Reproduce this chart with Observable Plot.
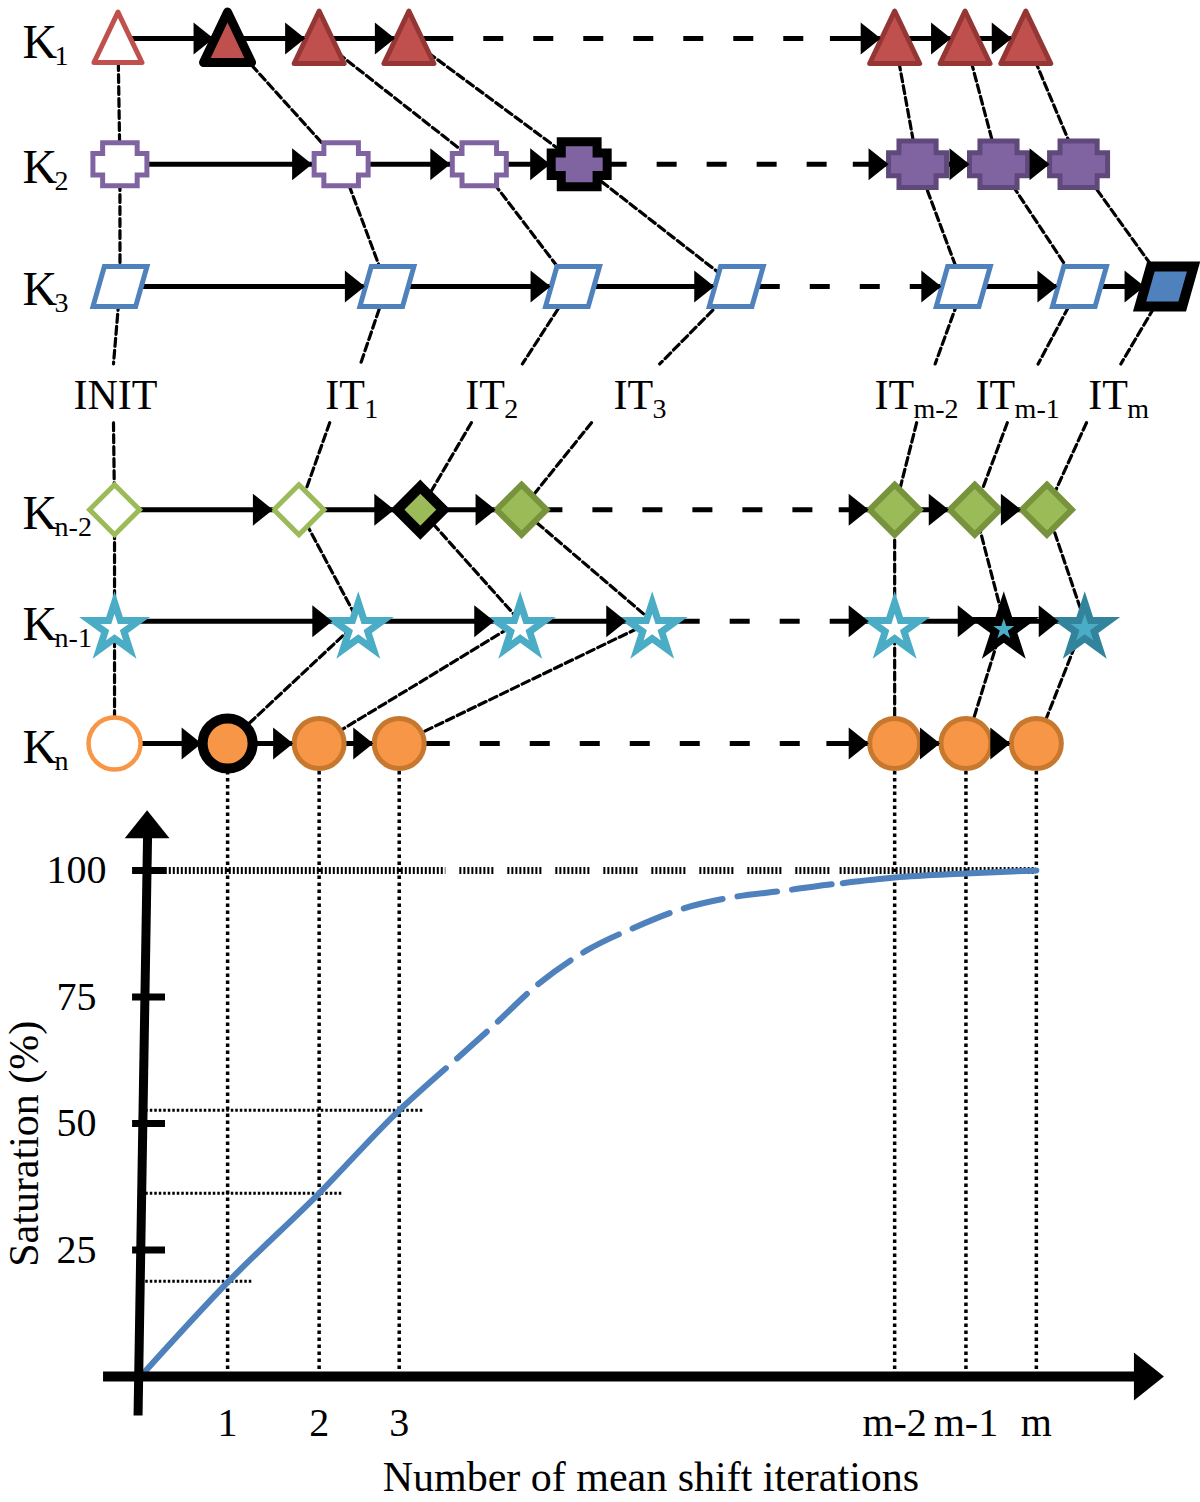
<!DOCTYPE html>
<html><head><meta charset="utf-8">
<script src="https://cdn.jsdelivr.net/npm/d3@7"></script>
<script src="https://cdn.jsdelivr.net/npm/@observablehq/plot@0.6"></script>
<style>
html,body{margin:0;padding:0;background:#fff;}
#chart svg{display:block;}
</style></head><body><div id="chart"></div>
<script>
// ---------- DATA ----------
const iterationLabels = ["INIT", "1", "2", "3", "m-2", "m-1", "m"];
const rowSubs = ["1", "2", "3", "n-2", "n-1", "n"];
const rowLevels = [0, 1.07, 2.11, 4.01, 4.96, 6];
// marker positions per cluster row (in iteration units)
const k1Pos  = [-0.256, 0.989, 2.03, 3.05, 8.57, 9.37, 10.06];
const k2Pos  = [-0.234, 2.28, 3.85, 4.985, 8.83, 9.75, 10.66];
const k3Pos  = [-0.233, 2.80, 4.91, 6.77, 9.35, 10.67, 11.66];
const kn2Pos = [-0.295, 1.80, 3.18, 4.33, 8.57, 9.48, 10.30];
const kn1Pos = [-0.295, 2.475, 4.315, 5.815, 8.57, 9.81, 10.73];
const knPos  = [-0.295, 0.99, 2.03, 2.94, 8.57, 9.38, 10.18];
const k1State  = ["open", "current", "done", "done", "done", "done", "done"];
const k2State  = ["open", "open", "open", "current", "done", "done", "done"];
const k3State  = ["open", "open", "open", "open", "open", "open", "current"];
const kn2State = ["open", "open", "current", "done", "done", "done", "done"];
const kn1State = ["open", "open", "open", "open", "open", "current", "done"];
const knState  = ["open", "current", "done", "done", "done", "done", "done"];
const dashSpans = [[3.56, 7.84], [5.53, 8.10], [7.27, 8.75], [4.80, 7.94], [6.36, 7.84], [3.52, 7.80]];
// iteration label row
const itLabelPos  = [-0.761, 2.10, 3.69, 5.375, 8.34, 9.49, 10.77];
const itTopPos    = [-0.307, 2.50, 4.34, 5.90, 9.03, 10.20, 11.14];
const itBottomPos = [-0.307, 2.15, 3.76, 5.125, 8.82, 9.85, 10.75];
const labelLevels = [2.77, 3.15, 3.27]; // connector top, text baseline, connector bottom
const kLabelPos = -1.34;
// saturation chart
const yTicks = [25, 50, 75, 100];
const xTickLabels = ["1", "2", "3", "m-2", "m-1", "m"];
const curveIter = [0, 1.0, 2.03, 2.94, 3.47, 3.99, 4.53, 5.07, 5.61, 6.17, 6.72, 7.31, 7.81, 7.98, 8.57, 9.38, 10.18];
const curveSat  = [0, 18.8, 36.2, 52.6, 60.9, 69.0, 77.7, 84.2, 88.7, 92.5, 94.7, 96.0, 97.2, 97.5, 98.6, 99.4, 100];
const curveBreaks = [3.47, 7.98];
const guideEnds = [1.28, 2.29, 3.23];
const fullLineBreaks = [0.1, 3.47, 7.95, 10.18];
const yAxisSpan = [{x1: -0.028, y1: -7.7, x2: 0.08, y2: 106.5}];
const yAxisTip = [{x: 0.075, y: 111.9}];
const xAxisSpan = [-0.42, 11.3];
const xAxisTip = [11.63];
const tickSpan = [-0.09, 0.284];
const chartTop = 116;

// ---------- STYLE / SYMBOLS ----------
const font = '"Liberation Serif", "Times New Roman", Times, serif';
const sq = size => Math.sqrt(size / Math.PI);
function poly(c, pts) { c.moveTo(pts[0][0], pts[0][1]); for (const p of pts.slice(1)) c.lineTo(p[0], p[1]); c.closePath(); }
const triangleSym = {draw(c, size) { const s = sq(size); poly(c, [[0, -1.1 * s], [s, s], [-s, s]]); }};
const crossSym = {draw(c, size) { const s = sq(size), a = 0.64 * s, b = 0.8 * s, h = 0.4 * s;
  poly(c, [[-a, -b], [a, -b], [a, -h], [s, -h], [s, h], [a, h], [a, b], [-a, b], [-a, h], [-s, h], [-s, -h], [-a, -h]]); }};
const paraSym = {draw(c, size) { const s = sq(size), h = 0.74 * s; poly(c, [[-0.58 * s, -h], [s, -h], [0.58 * s, h], [-s, h]]); }};
const diamondSym = {draw(c, size) { const s = sq(size); poly(c, [[0, -s], [s, 0], [0, s], [-s, 0]]); }};
const starSym = {draw(c, size) { const s = sq(size), off = 0.28 * s, pts = [];
  for (let i = 0; i < 10; i++) { const a = -Math.PI / 2 + i * Math.PI / 5, rr = i % 2 ? 0.382 * s : s; pts.push([rr * Math.cos(a), rr * Math.sin(a) + off]); }
  poly(c, pts); }};
const arrowRight = {draw(c, size) { const s = sq(size); poly(c, [[0, 0], [-s, -0.8 * s], [-s, 0.8 * s]]); }};
const arrowUp = {draw(c, size) { const s = sq(size); poly(c, [[0, 0], [0.8 * s, s], [-0.8 * s, s]]); }};

const rowShapes = [
  {sym: triangleSym, color: "#c0504d", dark: "#943634", r: 24, rDone: 25, rCur: 24, sw: 5, swDone: 5, swCur: 9, join: "round", tip: -14},
  {sym: crossSym, color: "#8064a2", dark: "#5f497a", r: 27, rDone: 29, rCur: 28, sw: 5, swDone: 5, swCur: 9, join: "miter", tip: -29},
  {sym: paraSym, color: "#4f81bd", dark: "#385d8a", r: 27, rDone: 27, rCur: 27, sw: 5, swDone: 5, swCur: 10, join: "miter", tip: -22},
  {sym: diamondSym, color: "#9bbb59", dark: "#77933c", r: 25, rDone: 25, rCur: 23, sw: 5, swDone: 6, swCur: 10, join: "miter", tip: -26},
  {sym: starSym, color: "#4bacc6", dark: "#31849b", r: 26, rDone: 26, rCur: 26, sw: 7, swDone: 7, swCur: 7, join: "miter", tip: -26},
  {sym: "circle", color: "#f79646", dark: "#c6782f", r: 26, rDone: 25, rCur: 25, sw: 4.5, swDone: 5, swCur: 10, join: "round", tip: -26}
];

// ---------- BUILD TOP DIAGRAM ----------
const rowPositions = [k1Pos, k2Pos, k3Pos, kn2Pos, kn1Pos, knPos];
const rowStates = [k1State, k2State, k3State, kn2State, kn1State, knState];
const xScale = {domain: [0, 10], range: [140, 1020], axis: null};

const chains = [];
iterationLabels.forEach((lab, j) => {
  [[k1Pos[j], rowLevels[0]], [k2Pos[j], rowLevels[1]], [k3Pos[j], rowLevels[2]], [itTopPos[j], labelLevels[0]]]
    .forEach(([x, y]) => chains.push({x, y, z: lab + "-up"}));
  [[itBottomPos[j], labelLevels[2]], [kn2Pos[j], rowLevels[3]], [kn1Pos[j], rowLevels[4]], [knPos[j], rowLevels[5]]]
    .forEach(([x, y]) => chains.push({x, y, z: lab + "-down"}));
});

const topMarks = [];
topMarks.push(Plot.line(chains, {x: "x", y: "y", z: "z", stroke: "black", strokeWidth: 3.2, strokeDasharray: "8,4"}));
topMarks.push(Plot.ruleX(knPos.slice(1), {x: d => d, y1: () => rowLevels[5], y2: () => 6.4, stroke: "black", strokeWidth: 3.5, strokeDasharray: "3.5,3.5"}));

rowPositions.forEach((pos, i) => {
  const level = rowLevels[i];
  const [d1, d2] = dashSpans[i];
  const solid = [{y: level, x1: pos[0], x2: d1}, {y: level, x1: d2, x2: pos[pos.length - 1]}];
  const dashed = [{y: level, x1: d1, x2: d2}];
  topMarks.push(Plot.ruleY(solid, {y: "y", x1: "x1", x2: "x2", stroke: "black", strokeWidth: 5}));
  topMarks.push(Plot.ruleY(dashed, {y: "y", x1: "x1", x2: "x2", stroke: "black", strokeWidth: 5, strokeDasharray: "20,30", strokeDashoffset: 20}));
});

rowPositions.forEach((pos, i) => {
  const st = rowShapes[i];
  const pts = pos.map((x, j) => ({x, y: rowLevels[i], state: rowStates[i][j]}));
  const open = pts.filter(d => d.state === "open");
  const done = pts.filter(d => d.state === "done");
  const cur = pts.filter(d => d.state === "current");
  topMarks.push(Plot.dot(open, {x: "x", y: "y", symbol: st.sym, r: st.r, fill: "white", stroke: st.color, strokeWidth: st.sw, strokeLinejoin: st.join}));
  topMarks.push(Plot.dot(done, {x: "x", y: "y", symbol: st.sym, r: st.rDone, fill: st.color, stroke: st.dark, strokeWidth: st.swDone, strokeLinejoin: st.join}));
  if (st.sym === starSym) {
    topMarks.push(Plot.dot(cur, {x: "x", y: "y", symbol: st.sym, r: st.rCur, fill: "black", stroke: "black", strokeWidth: st.swCur, strokeLinejoin: st.join}));
    topMarks.push(Plot.dot(cur, {x: "x", y: "y", symbol: st.sym, r: 11, fill: st.color, dy: 5}));
  } else {
    topMarks.push(Plot.dot(cur, {x: "x", y: "y", symbol: st.sym, r: st.rCur, fill: st.color, stroke: "black", strokeWidth: st.swCur, strokeLinejoin: st.join}));
  }
  topMarks.push(Plot.dot(pts.slice(1), {x: "x", y: "y", symbol: arrowRight, r: 20, fill: "black", dx: st.tip}));
});

const kLabels = rowSubs.map((sub, i) => ({sub, level: rowLevels[i]}));
topMarks.push(Plot.text(kLabels, {x: () => kLabelPos, y: "level", text: () => "K", textAnchor: "start", lineAnchor: "bottom", dy: 19, fontSize: 48, fontFamily: font, fill: "black"}));
topMarks.push(Plot.text(kLabels, {x: () => kLabelPos, y: "level", text: "sub", textAnchor: "start", lineAnchor: "bottom", dx: 32, dy: 26, fontSize: 28, fontFamily: font, fill: "black"}));
const itLabels = iterationLabels.map((lab, j) => ({main: j ? "IT" : "INIT", sub: j ? lab : "", x: itLabelPos[j]}));
topMarks.push(Plot.text(itLabels, {x: "x", y: () => labelLevels[1], text: "main", textAnchor: "start", lineAnchor: "bottom", fontSize: 42, fontFamily: font, fill: "black"}));
topMarks.push(Plot.text(itLabels.filter(d => d.sub), {x: "x", y: () => labelLevels[1], text: "sub", textAnchor: "start", lineAnchor: "bottom", dx: 39, dy: 9, fontSize: 28, fontFamily: font, fill: "black"}));

const topPlot = Plot.plot({
  width: 1200, height: 790, margin: 0,
  x: xScale,
  y: {domain: [0, 6], range: [38, 743], axis: null},
  style: {background: "white", fontFamily: font},
  marks: topMarks
});

// ---------- BOTTOM CHART ----------
const curvePts = curveIter.map((iter, i) => ({iter, sat: curveSat[i]}));
const seg1 = curvePts.filter(p => p.iter <= curveBreaks[0]);
const seg2 = curvePts.filter(p => p.iter >= curveBreaks[0] && p.iter <= curveBreaks[1]);
const seg3 = curvePts.filter(p => p.iter >= curveBreaks[1]);
const guides = [1, 2, 3].map((k, i) => ({sat: curveSat[k], end: guideEnds[i]}));
const xTicks = xTickLabels.map((label, i) => ({label, x: knPos[i + 1]}));
const fullDot = [{x1: fullLineBreaks[0], x2: fullLineBreaks[1]}, {x1: fullLineBreaks[2], x2: fullLineBreaks[3]}];
const fullGroup = [{x1: fullLineBreaks[1], x2: fullLineBreaks[2]}];

const bottomPlot = Plot.plot({
  width: 1200, height: 712, margin: 0,
  x: xScale,
  y: {domain: [0, 100], range: [586, 80], axis: null},
  style: {background: "white", fontFamily: font},
  marks: [
    Plot.ruleX(xTicks, {x: "x", y1: () => 0, y2: () => chartTop, stroke: "black", strokeWidth: 3.5, strokeDasharray: "3.5,3.5"}),
    Plot.ruleY(fullDot, {y: () => 100, x1: "x1", x2: "x2", stroke: "black", strokeWidth: 7, strokeDasharray: "2,2"}),
    Plot.ruleY(fullGroup, {y: () => 100, x1: "x1", x2: "x2", stroke: "black", strokeWidth: 7,
      strokeDasharray: "2,2,2,2,2,2,2,2,2,2,2,2,2,2,2,2,2,14", strokeDashoffset: 34}),
    Plot.ruleY(guides, {y: "sat", x1: () => 0.06, x2: "end", stroke: "black", strokeWidth: 3, strokeDasharray: "2.5,2"}),
    Plot.line(seg1, {x: "iter", y: "sat", curve: "monotone-x", stroke: "#4f81bd", strokeWidth: 6}),
    Plot.line(seg2, {x: "iter", y: "sat", curve: "monotone-x", stroke: "#4f81bd", strokeWidth: 6, strokeDasharray: "40,15", strokeDashoffset: 40}),
    Plot.line(seg3, {x: "iter", y: "sat", curve: "monotone-x", stroke: "#4f81bd", strokeWidth: 6}),
    Plot.link(yAxisSpan, {x1: "x1", y1: "y1", x2: "x2", y2: "y2", stroke: "black", strokeWidth: 9}),
    Plot.dot(yAxisTip, {x: "x", y: "y", symbol: arrowUp, r: 28, fill: "black"}),
    Plot.ruleY(yTicks, {y: d => d, x1: () => tickSpan[0], x2: () => tickSpan[1], stroke: "black", strokeWidth: 7}),
    Plot.ruleY([0], {x1: () => xAxisSpan[0], x2: () => xAxisSpan[1], stroke: "black", strokeWidth: 10}),
    Plot.dot(xAxisTip, {x: d => d, y: () => 0, symbol: arrowRight, r: 30, fill: "black"}),
    Plot.text(yTicks, {x: () => -0.727, y: d => d, text: d => String(d), textAnchor: "middle", fontSize: 40, fontFamily: font, fill: "black"}),
    Plot.text(xTicks, {x: "x", y: () => -11.7, text: "label", textAnchor: "middle", lineAnchor: "bottom", fontSize: 40, fontFamily: font, fill: "black"}),
    Plot.text(["Number of mean shift iterations"], {x: () => 5.8, y: () => -22.7, text: d => d, textAnchor: "middle", lineAnchor: "bottom", fontSize: 42, fontFamily: font, fill: "black"}),
    Plot.text(["Saturation (%)"], {x: () => -1.32, y: () => 46, text: d => d, rotate: -90, textAnchor: "middle", fontSize: 42, fontFamily: font, fill: "black"})
  ]
});

const root = document.getElementById("chart");
root.appendChild(topPlot);
root.appendChild(bottomPlot);
</script></body></html>
